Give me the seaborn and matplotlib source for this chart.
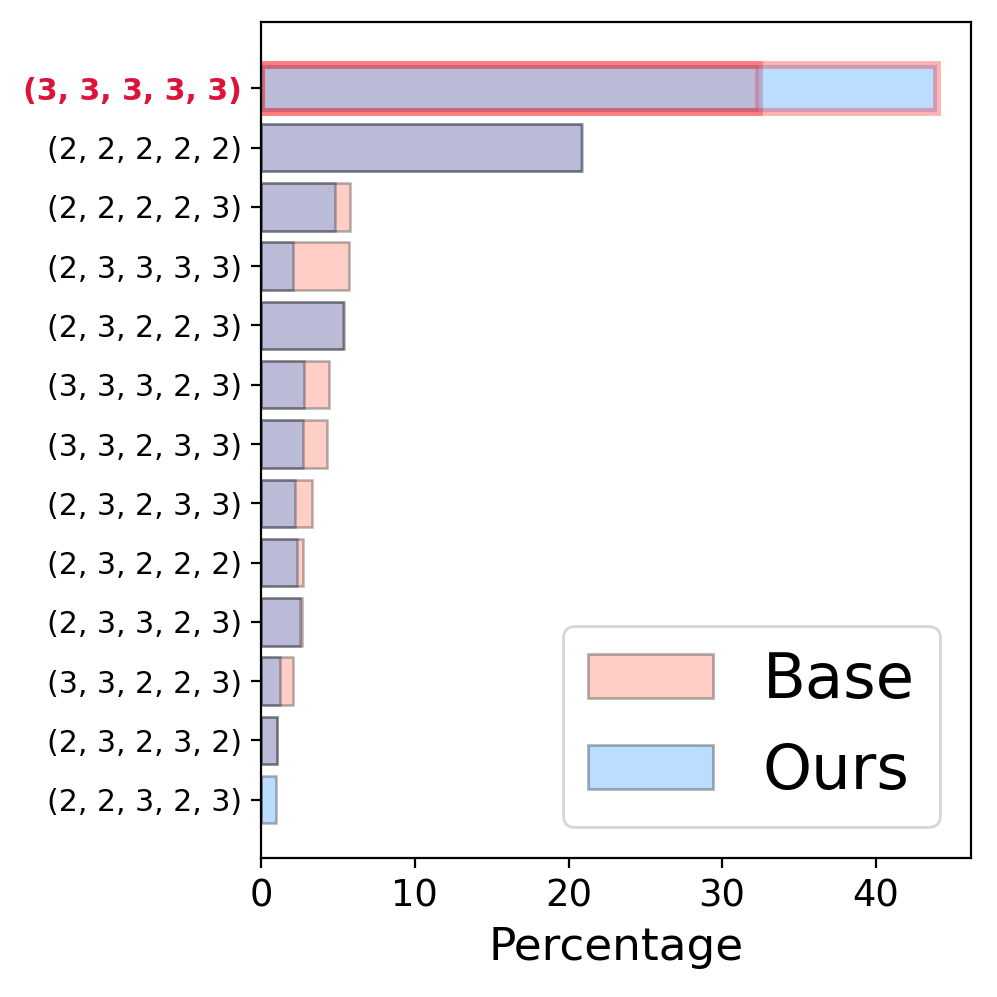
import matplotlib
matplotlib.use('Agg')
import matplotlib.pyplot as plt
import pandas as pd
import seaborn as sns

configs = ['(3, 3, 3, 3, 3)', '(2, 2, 2, 2, 2)', '(2, 2, 2, 2, 3)', '(2, 3, 3, 3, 3)',
           '(2, 3, 2, 2, 3)', '(3, 3, 3, 2, 3)', '(3, 3, 2, 3, 3)', '(2, 3, 2, 3, 3)',
           '(2, 3, 2, 2, 2)', '(2, 3, 3, 2, 3)', '(3, 3, 2, 2, 3)', '(2, 3, 2, 3, 2)',
           '(2, 2, 3, 2, 3)']
base = [32.4, 20.8, 5.75, 5.7, 5.4, 4.4, 4.3, 3.3, 2.7, 2.65, 2.05, 1.05, 0.0]
ours = [44.0, 20.9, 4.8, 2.1, 5.3, 2.8, 2.7, 2.2, 2.3, 2.5, 1.2, 1.0, 0.97]

df = pd.concat([
    pd.DataFrame({'config': configs, 'value': base, 'method': 'Base'}),
    pd.DataFrame({'config': configs, 'value': ours, 'method': 'Ours'}),
])

fig, ax = plt.subplots(figsize=(4.985, 4.985), dpi=200)
fig.subplots_adjust(left=0.262, right=0.974, top=0.978, bottom=0.139)

sns.barplot(data=df, y='config', x='value', hue='method', dodge=False,
            palette={'Base': 'tomato', 'Ours': 'dodgerblue'}, saturation=1,
            width=0.8, errorbar=None, ax=ax)

for cont in ax.containers:
    for i, bar in enumerate(cont):
        bar.set_alpha(0.3)
        if i == 0:
            # highlight the best config
            bar.set_edgecolor('red')
            bar.set_linewidth(2.8)
        else:
            bar.set_edgecolor('black')
            bar.set_linewidth(0.9)

lbl = ax.get_yticklabels()[0]
lbl.set_color('crimson')
lbl.set_fontweight('bold')

ax.set_ylim(len(configs) - 1 + 0.99, -1.12)
ax.set_xlabel('Percentage', fontsize=16.3)
ax.set_ylabel('')
ax.tick_params(axis='x', labelsize=13.3)
ax.tick_params(axis='y', labelsize=10.8)
sns.move_legend(ax, 'lower right', fontsize=22.5, title=None)
leg = ax.get_legend()
for h in leg.legend_handles:
    h.set_alpha(0.3)
    h.set_edgecolor('black')
    h.set_linewidth(1)

fig.savefig('out.png', dpi=200)
